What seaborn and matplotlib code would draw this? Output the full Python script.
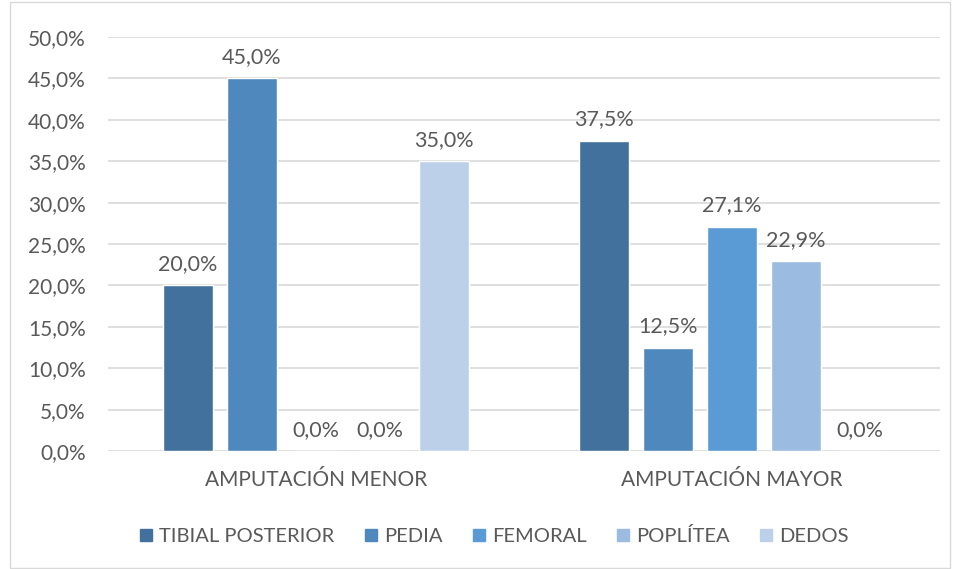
import matplotlib
matplotlib.use("Agg")
import matplotlib.pyplot as plt
import seaborn as sns
import pandas as pd
from matplotlib.patches import Rectangle

categories = ["AMPUTACIÓN MENOR", "AMPUTACIÓN MAYOR"]
series = ["TIBIAL POSTERIOR", "PEDIA", "FEMORAL", "POPLÍTEA", "DEDOS"]
menor = [20.0, 45.0, 0.0, 0.0, 35.0]
mayor = [37.5, 12.5, 27.1, 22.9, 0.0]
colors = ["#41719C", "#4E88BD", "#5B9BD5", "#9BBBE0", "#BDD0EA"]
yticks = [0, 5, 10, 15, 20, 25, 30, 35, 40, 45, 50]

rows = []
for s, a, b in zip(series, menor, mayor):
    rows.append({"cat": categories[0], "serie": s, "val": a})
    rows.append({"cat": categories[1], "serie": s, "val": b})
df = pd.DataFrame(rows)

sns.set_theme(style="white")
plt.rcParams["font.family"] = ["Lato", "DejaVu Sans"]
txt = "#595959"

fig = plt.figure(figsize=(9.54, 5.69), dpi=100)
ax = fig.add_axes([108/954, 1-451/569, 832/954, 414/569])
sns.barplot(data=df, x="cat", y="val", hue="serie", order=categories,
            hue_order=series, palette=colors, width=0.77, gap=0.22,
            saturation=1, ax=ax, legend=False)
ax.set_xlim(-0.5, 1.5)
ax.set_ylim(0, 50)
ax.set_yticks(yticks)
ax.set_yticklabels([f"{v:.1f}".replace(".", ",") + "%" for v in yticks])
for y in yticks:
    ax.axhline(y, color="#D9D9D9", lw=1.2, zorder=0)
for sp in ax.spines.values():
    sp.set_visible(False)
ax.tick_params(axis="y", length=0, pad=16, labelsize=15, labelcolor=txt)
ax.tick_params(axis="x", length=0, pad=14, labelsize=15, labelcolor=txt)
ax.set_xlabel("")
ax.set_ylabel("")

for cont in ax.containers:
    labels = [f"{b.get_height():.1f}".replace(".", ",") + "%" for b in cont]
    ax.bar_label(cont, labels=labels, padding=8, fontsize=15.5, color=txt)

handles = [Rectangle((0, 0), 1, 1, color=c) for c in colors]
fig.legend(handles, series, loc="center", bbox_to_anchor=(0.518, 1-536/569),
           ncol=5, frameon=False, fontsize=14.5, labelcolor=txt,
           handlelength=0.6, handleheight=0.6, handletextpad=0.35,
           columnspacing=1.5)

fig.add_artist(Rectangle((10/954, 0.002), 940/954, 0.995, transform=fig.transFigure,
                         fill=False, edgecolor="#D9D9D9", lw=1))
fig.savefig("out.png", dpi=100)
